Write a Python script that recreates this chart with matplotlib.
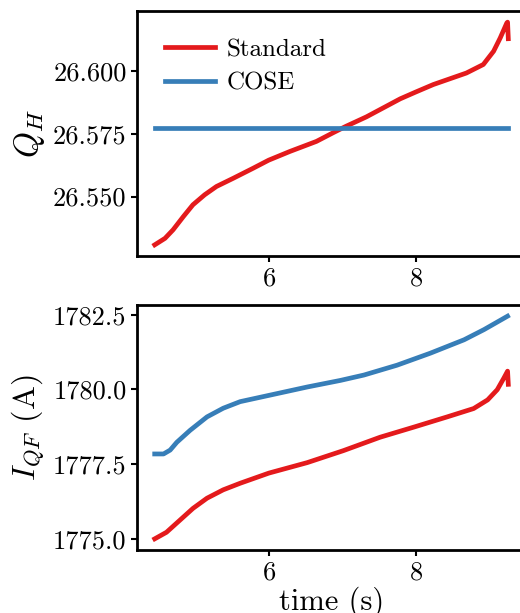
import matplotlib
matplotlib.use("Agg")
import matplotlib.pyplot as plt
from matplotlib.ticker import FormatStrFormatter

plt.rcParams["font.family"] = "serif"
plt.rcParams["font.serif"] = ["cmr10", "DejaVu Serif"]
plt.rcParams["mathtext.fontset"] = "cm"
plt.rcParams["axes.formatter.use_mathtext"] = True

RED = "#e41a1c"
BLUE = "#377eb8"

# top panel: Q_H
t_std_q = [4.45, 4.59, 4.70, 4.84, 4.97, 5.13, 5.29, 5.52, 5.79, 6.0, 6.29,
           6.65, 6.88, 7.05, 7.33, 7.79, 8.0, 8.24, 8.69, 8.92, 9.06, 9.15,
           9.24, 9.25, 9.26]
q_std = [26.5307, 26.5333, 26.5367, 26.542, 26.5467, 26.5507, 26.554,
         26.5573, 26.5613, 26.5645, 26.568, 26.572, 26.5755, 26.578, 26.5818,
         26.589, 26.5917, 26.5947, 26.5993, 26.6027, 26.608, 26.6133, 26.6193,
         26.6196, 26.613]
t_cose_q = [4.45, 9.26]
q_cose = [26.5774, 26.5774]

# bottom panel: I_QF
t_cose_i = [4.45, 4.57, 4.66, 4.75, 4.93, 5.16, 5.38, 5.61, 6.0, 6.52, 6.97,
            7.29, 7.74, 8.19, 8.65, 8.92, 9.24]
i_cose = [1777.84, 1777.84, 1777.97, 1778.23, 1778.63, 1779.08, 1779.37,
          1779.59, 1779.8, 1780.08, 1780.3, 1780.48, 1780.81, 1781.21,
          1781.66, 1782.0, 1782.45]
t_std_i = [4.45, 4.61, 4.79, 4.97, 5.16, 5.38, 5.61, 6.0, 6.52, 7.01, 7.51,
           7.97, 8.42, 8.78, 8.97, 9.10, 9.19, 9.24, 9.25]
i_std = [1775.0, 1775.22, 1775.62, 1776.02, 1776.36, 1776.64, 1776.86,
         1777.2, 1777.55, 1777.95, 1778.4, 1778.74, 1779.08, 1779.36,
         1779.65, 1779.99, 1780.38, 1780.61, 1780.17]

q_ticks = [26.55, 26.575, 26.600]
i_ticks = [1775.0, 1777.5, 1780.0, 1782.5]
t_ticks = [6, 8]

fig = plt.figure(figsize=(5.2, 6.13), dpi=100)
ax1 = fig.add_axes([0.2635, 0.5824, 0.748, 0.3996])
ax2 = fig.add_axes([0.2635, 0.1028, 0.748, 0.3996])

ax1.plot(t_std_q, q_std, color=RED, lw=3.4, label="Standard")
ax1.plot(t_cose_q, q_cose, color=BLUE, lw=3.4, label="COSE")
ax1.set_yticks(q_ticks)
ax1.yaxis.set_major_formatter(FormatStrFormatter("%.3f"))
ax1.set_ylabel(r"$Q_H$", fontsize=24)
ax1.legend(loc="upper left", frameon=False, fontsize=18, handlelength=2.0,
           borderaxespad=0.7, labelspacing=0.45, handletextpad=0.5)

ax2.plot(t_cose_i, i_cose, color=BLUE, lw=3.4)
ax2.plot(t_std_i, i_std, color=RED, lw=3.4)
ax2.set_yticks(i_ticks)
ax2.yaxis.set_major_formatter(FormatStrFormatter("%.1f"))
ax2.set_ylabel(r"$I_{QF}$ (A)", fontsize=23)
ax2.set_xlabel("time (s)", fontsize=22, labelpad=2)

for ax in (ax1, ax2):
    ax.set_xticks(t_ticks)
    ax.tick_params(labelsize=19, width=1.5, length=4, direction="out")
    for sp in ax.spines.values():
        sp.set_linewidth(2)

fig.savefig("out.png", dpi=100)
